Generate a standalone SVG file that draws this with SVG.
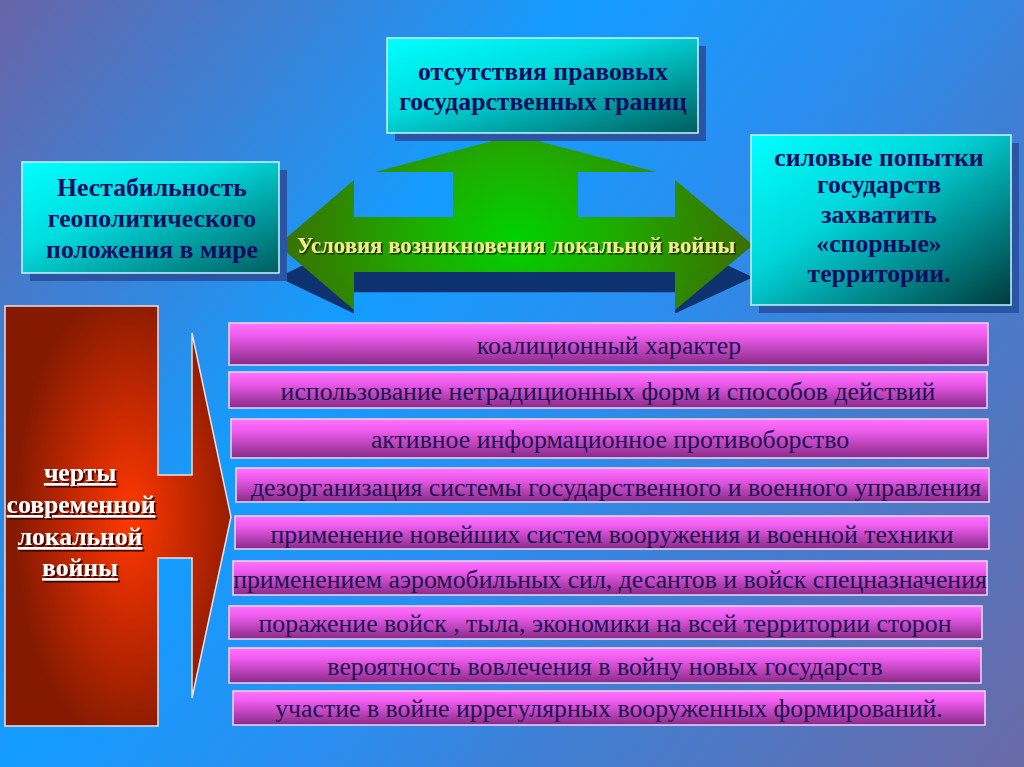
<svg xmlns="http://www.w3.org/2000/svg" width="1024" height="767" viewBox="0 0 1024 767">
<defs>
<linearGradient id="bg" gradientUnits="userSpaceOnUse" x1="0" y1="0" x2="1024" y2="767">
<stop offset="0" stop-color="#6764a8"/>
<stop offset="0.36" stop-color="#149cff"/>
<stop offset="0.55" stop-color="#2a8ef0"/>
<stop offset="0.68" stop-color="#3d80d6"/>
<stop offset="1" stop-color="#6a6aa6"/>
</linearGradient>
<linearGradient id="cyan" x1="0" y1="0" x2="1" y2="1">
<stop offset="0" stop-color="#00ffff"/>
<stop offset="0.4" stop-color="#00dcdf"/>
<stop offset="1" stop-color="#005c5e"/>
</linearGradient>
<linearGradient id="cyan2" x1="0" y1="0" x2="1" y2="1">
<stop offset="0" stop-color="#00ffff"/>
<stop offset="0.4" stop-color="#00d6da"/>
<stop offset="1" stop-color="#003a3c"/>
</linearGradient>
<linearGradient id="pink" x1="0" y1="0" x2="0" y2="1">
<stop offset="0" stop-color="#ff72ff"/>
<stop offset="0.3" stop-color="#ee5cee"/>
<stop offset="1" stop-color="#882a86"/>
</linearGradient>
<radialGradient id="green" gradientUnits="userSpaceOnUse" cx="515" cy="238" r="250" gradientTransform="translate(515 238) scale(1 0.8) translate(-515 -238)">
<stop offset="0" stop-color="#00d200"/>
<stop offset="0.4" stop-color="#1eac00"/>
<stop offset="1" stop-color="#3e6800"/>
</radialGradient>
<radialGradient id="red" gradientUnits="userSpaceOnUse" cx="130" cy="518" r="230" gradientTransform="translate(130 518) scale(0.5 1) translate(-130 -518)">
<stop offset="0" stop-color="#ff3800"/>
<stop offset="0.5" stop-color="#c42800"/>
<stop offset="1" stop-color="#861a00"/>
</radialGradient>
<filter id="ts" x="-10%" y="-30%" width="120%" height="160%">
<feDropShadow dx="1.5" dy="1.5" stdDeviation="0.4" flood-color="#102000" flood-opacity="0.9"/>
</filter>
<filter id="tsr" x="-10%" y="-30%" width="120%" height="160%">
<feDropShadow dx="2" dy="2" stdDeviation="0.5" flood-color="#3a0000" flood-opacity="0.9"/>
</filter>
<style>
.box { stroke:#c8f6ff; stroke-width:1.5; }
.shadow { fill:#2a54a4; }
.bt { font-family:"Liberation Serif","Times New Roman",serif; font-weight:bold; font-size:25.7px; fill:#0c0c60; text-anchor:middle; }
.bar { fill:url(#pink); stroke:#f2d6ff; stroke-width:1.5; }
.bt2 { font-family:"Liberation Serif","Times New Roman",serif; font-size:25.8px; fill:#1c1452; text-anchor:middle; }
.gl { font-family:"Liberation Serif","Times New Roman",serif; font-weight:bold; font-size:22.8px; fill:#f2ee8c; text-anchor:middle; }
.rt { font-family:"Liberation Serif","Times New Roman",serif; font-weight:bold; font-size:25.6px; fill:#ffffff; text-anchor:middle; text-decoration:underline; }
</style>
</defs>
<rect x="0" y="0" width="1024" height="767" fill="url(#bg)"/>

<g id="connectors">
<path id="arrow-shadow" fill="#0e3270" transform="matrix(1,0,0,0.56,0,140)" d="M278,245 L354,180 L354,217 L453,217 L453,172 L375,172 L515,135 L656,172 L578,172 L578,217 L675,217 L675,180 L753,245 L675,310 L675,272 L354,272 L354,310 Z"/>
<path id="arrow-conditions" fill="url(#green)" d="M278,245 L354,180 L354,217 L453,217 L453,172 L375,172 L515,135 L656,172 L578,172 L578,217 L675,217 L675,180 L753,245 L675,310 L675,272 L354,272 L354,310 Z"/>
</g>

<g id="node-borders">
<rect class="shadow" x="395" y="46" width="311" height="95"/>
<rect class="box" x="387" y="38" width="311" height="95" fill="url(#cyan)"/>
<text class="bt" x="543" y="80">отсутствия правовых</text>
<text class="bt" x="543" y="110">государственных границ</text>
</g>

<g id="node-instability">
<rect class="shadow" x="30" y="170" width="257" height="111"/>
<rect class="box" x="22" y="162" width="257" height="111" fill="url(#cyan)"/>
<text class="bt" x="152" y="196">Нестабильность</text>
<text class="bt" x="152" y="227">геополитического</text>
<text class="bt" x="152" y="258">положения в мире</text>
</g>

<g id="node-attempts">
<rect class="shadow" x="759" y="143" width="260" height="170"/>
<rect class="box" x="751" y="135" width="260" height="170" fill="url(#cyan2)"/>
<text class="bt" x="879" y="166">силовые попытки</text>
<text class="bt" x="879" y="193">государств</text>
<text class="bt" x="879" y="223">захватить</text>
<text class="bt" x="879" y="252">«спорные»</text>
<text class="bt" x="879" y="282">территории.</text>
</g>

<g id="node-conditions">
<text class="gl" x="516" y="253" filter="url(#ts)">Условия возникновения локальной войны</text>
</g>

<g id="node-features">
<polygon points="5,306 158,306 158,475 192,475 192,333 231,517 192,698 192,558 158,558 158,726 5,726" fill="url(#red)" stroke="#f0e0e0" stroke-width="1.5"/>
<g filter="url(#tsr)">
<text class="rt" x="80" y="481">черты </text>
<text class="rt" x="81" y="513">современной</text>
<text class="rt" x="80" y="545"> локальной</text>
<text class="rt" x="80" y="576"> войны</text>
</g>
</g>

<g id="bar-1"><rect class="bar" x="229" y="323" width="759" height="42"/><text class="bt2" x="609" y="354">коалиционный характер</text></g>
<g id="bar-2"><rect class="bar" x="229" y="372" width="758" height="36"/><text class="bt2" x="608" y="400">использование нетрадиционных форм и способов действий</text></g>
<g id="bar-3"><rect class="bar" x="231" y="419" width="757" height="39"/><text class="bt2" x="610" y="448">активное информационное противоборство</text></g>
<g id="bar-4"><rect class="bar" x="236" y="468" width="753" height="34"/><text class="bt2" x="616" y="496">дезорганизация системы государственного и военного управления</text></g>
<g id="bar-5"><rect class="bar" x="235" y="516" width="754" height="33"/><text class="bt2" x="612" y="543">применение новейших систем вооружения и военной техники</text></g>
<g id="bar-6"><rect class="bar" x="233" y="561" width="754" height="34"/><text class="bt2" x="610" y="588">применением аэромобильных сил, десантов и войск спецназначения</text></g>
<g id="bar-7"><rect class="bar" x="229" y="606" width="753" height="33"/><text class="bt2" x="605" y="632">поражение войск , тыла, экономики на всей территории сторон</text></g>
<g id="bar-8"><rect class="bar" x="229" y="648" width="752" height="35"/><text class="bt2" x="605" y="675">вероятность вовлечения в войну новых государств</text></g>
<g id="bar-9"><rect class="bar" x="233" y="691" width="752" height="34"/><text class="bt2" x="609" y="717">участие в войне иррегулярных вооруженных формирований.</text></g>
</svg>
